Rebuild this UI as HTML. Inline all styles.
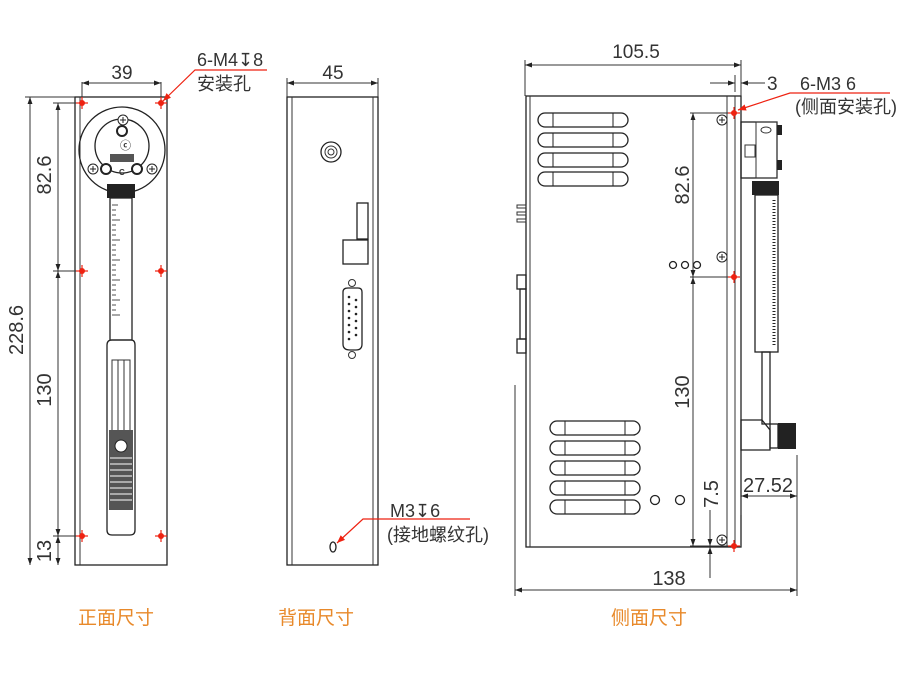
<!DOCTYPE html>
<html><head><meta charset="utf-8"><style>
html,body{margin:0;padding:0;background:#fff;}
svg{display:block;}
text{font-family:"Liberation Sans Narrow","Liberation Sans","Noto Sans CJK SC",sans-serif;fill:#333;}
.d{stroke:#333;stroke-width:1;fill:none;}
.t{stroke:#222;stroke-width:1.3;fill:none;}
.o{font-size:19px;fill:#e8892a;font-family:"Liberation Sans","Noto Sans CJK SC",sans-serif;}
</style></head><body>
<svg width="900" height="676" viewBox="0 0 900 676" xmlns="http://www.w3.org/2000/svg">
<defs>
<marker id="a" viewBox="0 0 10 10" refX="10" refY="5" markerWidth="9" markerHeight="7" orient="auto-start-reverse" markerUnits="userSpaceOnUse"><path d="M0,1.5 L10,5 L0,8.5z" fill="#222"/></marker>
<marker id="r" viewBox="0 0 10 10" refX="10" refY="5" markerWidth="10" markerHeight="8" orient="auto" markerUnits="userSpaceOnUse"><path d="M0,1 L10,5 L0,9z" fill="#e21"/></marker>
<g id="h"><line x1="-6" y1="0" x2="6" y2="0" stroke="#e21" stroke-width="1.2"/><line x1="0" y1="-6" x2="0" y2="6" stroke="#e21" stroke-width="1.2"/><circle r="3" fill="#e21"/></g>
<g id="s"><circle r="5" fill="#fff" stroke="#222"/><line x1="-3" y1="0" x2="3" y2="0" stroke="#222"/><line x1="0" y1="-3" x2="0" y2="3" stroke="#222"/></g>
<g id="v"><rect x="0" y="-7" width="90" height="14" rx="7" fill="none" stroke="#222" stroke-width="1.3"/><line x1="15" y1="-7" x2="15" y2="7" stroke="#222"/><line x1="75" y1="-7" x2="75" y2="7" stroke="#222"/></g>
</defs>

<!-- FRONT VIEW -->
<rect x="75" y="97" width="92" height="468" class="t"/>
<line x1="80" y1="97" x2="80" y2="565" class="d"/>
<line x1="82" y1="82" x2="82" y2="97" class="d"/><line x1="161" y1="82" x2="161" y2="97" class="d"/>
<line x1="82" y1="83" x2="161" y2="83" class="d" marker-start="url(#a)" marker-end="url(#a)"/>
<text x="122" y="79" font-size="19" text-anchor="middle">39</text>
<text x="197" y="66" font-size="18">6-M4↧8</text>
<text x="197" y="90" font-size="18">安装孔</text>
<polyline points="267,70 195,70 163,101" stroke="#e21" stroke-width="1.2" fill="none" marker-end="url(#r)"/>
<line x1="25" y1="97" x2="75" y2="97" class="d"/>
<line x1="53" y1="103" x2="78" y2="103" class="d"/><line x1="53" y1="271" x2="78" y2="271" class="d"/><line x1="53" y1="536" x2="78" y2="536" class="d"/>
<line x1="30" y1="97" x2="30" y2="565" class="d" marker-start="url(#a)" marker-end="url(#a)"/>
<line x1="58" y1="103" x2="58" y2="271" class="d" marker-start="url(#a)" marker-end="url(#a)"/>
<line x1="58" y1="271" x2="58" y2="536" class="d" marker-start="url(#a)" marker-end="url(#a)"/>
<line x1="58" y1="536" x2="58" y2="565" class="d" marker-start="url(#a)" marker-end="url(#a)"/>
<text transform="translate(23,330) rotate(-90)" font-size="20" text-anchor="middle">228.6</text>
<text transform="translate(51,175) rotate(-90)" font-size="20" text-anchor="middle">82.6</text>
<text transform="translate(51,390) rotate(-90)" font-size="20" text-anchor="middle">130</text>
<text transform="translate(51,551) rotate(-90)" font-size="20" text-anchor="middle">13</text>
<!-- gauge -->
<circle cx="122" cy="150" r="43" class="t"/>
<circle cx="122" cy="146" r="27" class="t"/>
<use href="#s" x="123" y="120"/><use href="#s" x="93" y="169"/><use href="#s" x="152" y="169"/>
<circle cx="122" cy="131" r="5" fill="#fff" stroke="#222" stroke-width="2"/>
<circle cx="106" cy="169" r="5" fill="#fff" stroke="#222" stroke-width="2"/><circle cx="137" cy="169" r="5" fill="#fff" stroke="#222" stroke-width="2"/>
<rect x="110" y="154" width="24" height="8" fill="#555"/>
<text x="119" y="175" font-size="8" font-weight="bold">C</text>
<text x="120" y="149" font-size="11" font-weight="bold">ⓒ</text>
<rect x="107" y="184" width="28" height="14" fill="#222"/>
<rect x="110" y="198" width="22" height="142" class="t"/>
<g stroke="#222" stroke-width="0.8">
<line x1="112" y1="205" x2="118" y2="205"/><line x1="112" y1="210" x2="116" y2="210"/><line x1="112" y1="215" x2="116" y2="215"/><line x1="112" y1="220" x2="120" y2="220"/><line x1="112" y1="225" x2="116" y2="225"/><line x1="112" y1="230" x2="116" y2="230"/><line x1="112" y1="235" x2="116" y2="235"/><line x1="112" y1="240" x2="120" y2="240"/><line x1="112" y1="245" x2="116" y2="245"/><line x1="112" y1="250" x2="116" y2="250"/><line x1="112" y1="255" x2="116" y2="255"/><line x1="112" y1="260" x2="120" y2="260"/><line x1="112" y1="265" x2="116" y2="265"/><line x1="112" y1="270" x2="116" y2="270"/><line x1="112" y1="275" x2="116" y2="275"/><line x1="112" y1="280" x2="120" y2="280"/><line x1="112" y1="285" x2="116" y2="285"/><line x1="112" y1="290" x2="116" y2="290"/><line x1="112" y1="295" x2="116" y2="295"/><line x1="112" y1="300" x2="120" y2="300"/><line x1="112" y1="305" x2="116" y2="305"/><line x1="112" y1="310" x2="116" y2="310"/><line x1="112" y1="315" x2="120" y2="315"/>
</g>
<path d="M107,345 Q107,340 112,340 L131,340 Q135,340 135,345 L135,530 Q135,535 130,535 L112,535 Q107,535 107,530 Z" class="t"/>
<rect x="112" y="360" width="18" height="75" class="d"/>
<line x1="118" y1="360" x2="118" y2="435" class="d"/><line x1="124" y1="360" x2="124" y2="435" class="d"/>
<rect x="109" y="430" width="24" height="80" fill="#555"/>
<circle cx="121" cy="446" r="6" fill="#fff" stroke="#222"/>
<g stroke="#fff" stroke-width="1"><line x1="110" y1="458" x2="132" y2="458"/><line x1="110" y1="464" x2="132" y2="464"/><line x1="110" y1="470" x2="132" y2="470"/><line x1="110" y1="476" x2="132" y2="476"/><line x1="110" y1="482" x2="132" y2="482"/><line x1="110" y1="488" x2="132" y2="488"/><line x1="110" y1="494" x2="132" y2="494"/><line x1="110" y1="500" x2="132" y2="500"/></g>
<use href="#h" x="82" y="103"/><use href="#h" x="161" y="103"/><use href="#h" x="82" y="271"/><use href="#h" x="161" y="271"/><use href="#h" x="82" y="536"/><use href="#h" x="161" y="536"/>
<text x="78" y="624" class="o">正面尺寸</text>

<!-- BACK VIEW -->
<rect x="287" y="97" width="91" height="468" class="t"/>
<line x1="292" y1="97" x2="292" y2="565" class="d"/><line x1="373" y1="97" x2="373" y2="565" class="d"/>
<line x1="287" y1="78" x2="287" y2="97" class="d"/><line x1="378" y1="78" x2="378" y2="97" class="d"/>
<line x1="287" y1="83" x2="378" y2="83" class="d" marker-start="url(#a)" marker-end="url(#a)"/>
<text x="333" y="79" font-size="19" text-anchor="middle">45</text>
<circle cx="331" cy="152" r="10" class="t"/><circle cx="331" cy="152" r="6" class="d"/><circle cx="331" cy="152" r="3" class="d"/>
<rect x="357" y="203" width="11" height="36" class="t"/>
<rect x="343" y="240" width="25" height="24" class="t"/>
<path d="M343,292 Q343,288 348,288 L358,288 Q362,288 362,292 L362,344 Q362,350 356,350 L350,350 Q343,350 343,344 Z" class="t" stroke-width="2"/>
<circle cx="352" cy="283" r="3.5" class="d"/><circle cx="352" cy="355" r="3.5" class="d"/>
<g fill="#222"><circle cx="349" cy="297" r="1.3"/><circle cx="349" cy="304" r="1.3"/><circle cx="349" cy="311" r="1.3"/><circle cx="349" cy="318" r="1.3"/><circle cx="349" cy="325" r="1.3"/><circle cx="349" cy="332" r="1.3"/><circle cx="349" cy="339" r="1.3"/><circle cx="356" cy="300" r="1.3"/><circle cx="356" cy="307" r="1.3"/><circle cx="356" cy="314" r="1.3"/><circle cx="356" cy="321" r="1.3"/><circle cx="356" cy="328" r="1.3"/><circle cx="356" cy="335" r="1.3"/></g>
<ellipse cx="333" cy="547" rx="3" ry="5" class="t"/>
<text x="390" y="517" font-size="18">M3↧6</text>
<text x="387" y="541" font-size="18">(接地螺纹孔)</text>
<polyline points="470,519 363,519 337,543" stroke="#e21" stroke-width="1.2" fill="none" marker-end="url(#r)"/>
<text x="278" y="624" class="o">背面尺寸</text>

<!-- SIDE VIEW -->
<rect x="526" y="96" width="215" height="451" class="t"/>
<line x1="530" y1="96" x2="530" y2="547" class="d"/>
<line x1="727" y1="96" x2="727" y2="547" class="d"/><line x1="735" y1="96" x2="735" y2="547" class="d"/>
<line x1="525" y1="60" x2="525" y2="96" class="d"/><line x1="741" y1="60" x2="741" y2="96" class="d"/>
<line x1="735" y1="75" x2="735" y2="92" class="d"/>
<line x1="525" y1="65" x2="741" y2="65" class="d" marker-start="url(#a)" marker-end="url(#a)"/>
<text x="636" y="58" font-size="19" text-anchor="middle">105.5</text>
<line x1="710" y1="83" x2="735" y2="83" class="d" marker-end="url(#a)"/>
<line x1="765" y1="83" x2="741" y2="83" class="d" marker-end="url(#a)"/>
<text x="767" y="90" font-size="19">3</text>
<text x="800" y="90" font-size="18">6-M3   6</text>
<text x="795" y="113" font-size="18">(侧面安装孔)</text>
<polyline points="890,93 790,93 738,110" stroke="#e21" stroke-width="1.2" fill="none" marker-end="url(#r)"/>
<use href="#v" x="538" y="120"/><use href="#v" x="538" y="140"/><use href="#v" x="538" y="160"/><use href="#v" x="538" y="179"/>
<use href="#v" x="550" y="428"/><use href="#v" x="550" y="448"/><use href="#v" x="550" y="468"/><use href="#v" x="550" y="488"/><use href="#v" x="550" y="507"/>
<circle cx="655" cy="500" r="4.5" class="t"/><circle cx="680" cy="500" r="4.5" class="t"/>
<circle cx="673" cy="265" r="3.5" class="t"/><circle cx="685" cy="265" r="3.5" class="t"/><circle cx="697" cy="265" r="3.5" class="t"/>
<use href="#s" x="722" y="120"/><use href="#s" x="722" y="257"/><use href="#s" x="722" y="540"/>
<rect x="517" y="205" width="9" height="3" class="d"/><rect x="517" y="212" width="9" height="3" class="d"/><rect x="517" y="219" width="9" height="3" class="d"/>
<rect x="517" y="275" width="9" height="14" class="t"/><rect x="520" y="289" width="6" height="50" class="t"/><rect x="517" y="339" width="9" height="14" class="t"/>
<!-- dims side -->
<line x1="690" y1="113" x2="735" y2="113" class="d"/><line x1="690" y1="277" x2="735" y2="277" class="d"/><line x1="690" y1="546" x2="735" y2="546" class="d"/>
<line x1="693" y1="113" x2="693" y2="277" class="d" marker-start="url(#a)" marker-end="url(#a)"/>
<line x1="693" y1="277" x2="693" y2="546" class="d" marker-start="url(#a)" marker-end="url(#a)"/>
<text transform="translate(689,185) rotate(-90)" font-size="20" text-anchor="middle">82.6</text>
<text transform="translate(689,392) rotate(-90)" font-size="20" text-anchor="middle">130</text>
<line x1="710" y1="510" x2="710" y2="546" class="d" marker-end="url(#a)"/>
<line x1="710" y1="578" x2="710" y2="547" class="d" marker-end="url(#a)"/>
<text transform="translate(718,494) rotate(-90)" font-size="20" text-anchor="middle">7.5</text>
<line x1="515" y1="385" x2="515" y2="596" class="d"/><line x1="797" y1="455" x2="797" y2="596" class="d"/>
<line x1="515" y1="590" x2="797" y2="590" class="d" marker-start="url(#a)" marker-end="url(#a)"/>
<text x="669" y="585" font-size="20" text-anchor="middle">138</text>
<line x1="741" y1="497" x2="741" y2="515" class="d"/>
<line x1="741" y1="496" x2="797" y2="496" class="d" marker-start="url(#a)" marker-end="url(#a)"/>
<text x="768" y="492" font-size="20" text-anchor="middle">27.52</text>
<!-- side gauge -->
<rect x="741" y="122" width="36" height="56" class="t"/>
<rect x="756" y="122" width="21" height="56" class="d"/>
<ellipse cx="766" cy="130" rx="5" ry="3" class="d"/>
<rect x="745" y="145" width="10" height="12" class="d"/>
<rect x="777" y="125" width="5" height="10" fill="#222"/><rect x="777" y="160" width="5" height="10" fill="#222"/>
<rect x="752" y="181" width="27" height="14" fill="#222"/>
<rect x="755" y="195" width="23" height="157" class="t"/>
<line x1="774" y1="200" x2="774" y2="345" stroke="#222" stroke-width="3" stroke-dasharray="1 2"/>
<rect x="762" y="352" width="8" height="72" class="t"/>
<path d="M741,420 L762,420 L770,430 L770,450 L741,450 Z" class="t"/>
<rect x="770" y="424" width="8" height="24" class="t"/>
<rect x="778" y="423" width="18" height="26" fill="#222"/>
<use href="#h" x="734" y="113"/><use href="#h" x="734" y="277"/><use href="#h" x="734" y="546"/>
<text x="611" y="624" class="o">侧面尺寸</text>
</svg>
</body></html>
